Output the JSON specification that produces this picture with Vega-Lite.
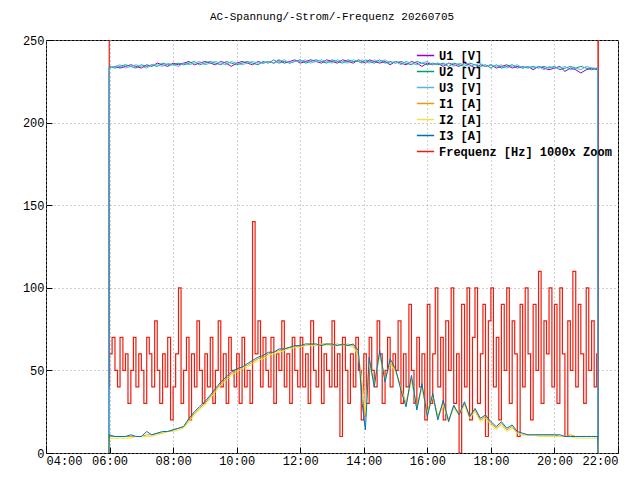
{
  "$schema": "https://vega.github.io/schema/vega-lite/v6.json",
  "width": 572,
  "height": 413,
  "autosize": {"type": "none"},
  "padding": {"left": 46, "top": 40, "right": 22, "bottom": 27},
  "background": "white",
  "title": {"text": "AC-Spannung/-Strom/-Frequenz 20260705", "font": "Liberation Mono", "fontSize": 11, "fontWeight": "normal", "offset": 12},
  "datasets": {
    "el": [
      {"t":5.98,"u1":0,"u2":0,"u3":0,"i1":0,"i2":0,"i3":0},
      {"t":5.99,"u1":233,"u2":234,"u3":233,"i1":10,"i2":9,"i3":11},
      {"t":6.17,"u1":234,"u2":233,"u3":234,"i1":10,"i2":9,"i3":10},
      {"t":6.33,"u1":233,"u2":234,"u3":235,"i1":10,"i2":9,"i3":10},
      {"t":6.5,"u1":234,"u2":235,"u3":233,"i1":10,"i2":9,"i3":10},
      {"t":6.67,"u1":235,"u2":234,"u3":234,"i1":10,"i2":9,"i3":11},
      {"t":6.83,"u1":234,"u2":233,"u3":235,"i1":10,"i2":10,"i3":10},
      {"t":7.0,"u1":233,"u2":235,"u3":234,"i1":10,"i2":10,"i3":10},
      {"t":7.17,"u1":235,"u2":234,"u3":233,"i1":11,"i2":10,"i3":13},
      {"t":7.33,"u1":234,"u2":235,"u3":235,"i1":11,"i2":10,"i3":11},
      {"t":7.5,"u1":236,"u2":234,"u3":235,"i1":12,"i2":11,"i3":12},
      {"t":7.67,"u1":235,"u2":236,"u3":234,"i1":12,"i2":12,"i3":13},
      {"t":7.83,"u1":234,"u2":235,"u3":236,"i1":13,"i2":13,"i3":13},
      {"t":8.0,"u1":236,"u2":235,"u3":235,"i1":14,"i2":13,"i3":14},
      {"t":8.17,"u1":235,"u2":236,"u3":234,"i1":15,"i2":14,"i3":15},
      {"t":8.33,"u1":236,"u2":235,"u3":236,"i1":16,"i2":15,"i3":16},
      {"t":8.5,"u1":237,"u2":236,"u3":235,"i1":20,"i2":19,"i3":21},
      {"t":8.67,"u1":235,"u2":237,"u3":236,"i1":24,"i2":23,"i3":25},
      {"t":8.83,"u1":236,"u2":235,"u3":237,"i1":27,"i2":26,"i3":28},
      {"t":9.0,"u1":237,"u2":236,"u3":235,"i1":30,"i2":29,"i3":31},
      {"t":9.17,"u1":236,"u2":237,"u3":236,"i1":34,"i2":33,"i3":35},
      {"t":9.33,"u1":235,"u2":236,"u3":237,"i1":38,"i2":37,"i3":39},
      {"t":9.5,"u1":237,"u2":235,"u3":236,"i1":42,"i2":41,"i3":43},
      {"t":9.67,"u1":236,"u2":237,"u3":235,"i1":45,"i2":44,"i3":46},
      {"t":9.83,"u1":234,"u2":236,"u3":237,"i1":48,"i2":47,"i3":49},
      {"t":10.0,"u1":236,"u2":235,"u3":236,"i1":50,"i2":49,"i3":51},
      {"t":10.17,"u1":237,"u2":236,"u3":235,"i1":52,"i2":51,"i3":52},
      {"t":10.33,"u1":236,"u2":237,"u3":236,"i1":53,"i2":52,"i3":54},
      {"t":10.5,"u1":235,"u2":236,"u3":237,"i1":55,"i2":54,"i3":56},
      {"t":10.67,"u1":237,"u2":235,"u3":236,"i1":57,"i2":56,"i3":58},
      {"t":10.83,"u1":236,"u2":237,"u3":236,"i1":58,"i2":57,"i3":59},
      {"t":11.0,"u1":237,"u2":236,"u3":237,"i1":60,"i2":59,"i3":61},
      {"t":11.17,"u1":236,"u2":238,"u3":236,"i1":61,"i2":60,"i3":61},
      {"t":11.33,"u1":238,"u2":236,"u3":237,"i1":62,"i2":61,"i3":63},
      {"t":11.5,"u1":236,"u2":237,"u3":238,"i1":63,"i2":62,"i3":63},
      {"t":11.67,"u1":237,"u2":236,"u3":236,"i1":64,"i2":63,"i3":64},
      {"t":11.83,"u1":238,"u2":237,"u3":237,"i1":64,"i2":64,"i3":65},
      {"t":12.0,"u1":236,"u2":238,"u3":237,"i1":65,"i2":64,"i3":65},
      {"t":12.17,"u1":237,"u2":236,"u3":238,"i1":65,"i2":65,"i3":66},
      {"t":12.33,"u1":238,"u2":237,"u3":236,"i1":66,"i2":65,"i3":66},
      {"t":12.5,"u1":237,"u2":238,"u3":237,"i1":65,"i2":65,"i3":66},
      {"t":12.67,"u1":236,"u2":237,"u3":238,"i1":66,"i2":66,"i3":65},
      {"t":12.83,"u1":238,"u2":236,"u3":237,"i1":66,"i2":65,"i3":66},
      {"t":13.0,"u1":237,"u2":238,"u3":236,"i1":65,"i2":66,"i3":66},
      {"t":13.17,"u1":236,"u2":237,"u3":238,"i1":66,"i2":65,"i3":65},
      {"t":13.33,"u1":238,"u2":236,"u3":237,"i1":65,"i2":66,"i3":66},
      {"t":13.5,"u1":237,"u2":238,"u3":236,"i1":66,"i2":65,"i3":65},
      {"t":13.67,"u1":236,"u2":237,"u3":238,"i1":65,"i2":64,"i3":66},
      {"t":13.83,"u1":238,"u2":237,"u3":237,"i1":60,"i2":59,"i3":62},
      {"t":13.95,"u1":237,"u2":236,"u3":238,"i1":40,"i2":42,"i3":30},
      {"t":14.05,"u1":236,"u2":238,"u3":237,"i1":22,"i2":24,"i3":14},
      {"t":14.17,"u1":238,"u2":237,"u3":236,"i1":55,"i2":54,"i3":58},
      {"t":14.33,"u1":237,"u2":236,"u3":238,"i1":42,"i2":41,"i3":40},
      {"t":14.5,"u1":236,"u2":238,"u3":237,"i1":60,"i2":59,"i3":62},
      {"t":14.67,"u1":237,"u2":236,"u3":238,"i1":45,"i2":44,"i3":43},
      {"t":14.83,"u1":235,"u2":237,"u3":236,"i1":55,"i2":54,"i3":57},
      {"t":15.0,"u1":237,"u2":236,"u3":237,"i1":50,"i2":49,"i3":51},
      {"t":15.17,"u1":236,"u2":237,"u3":235,"i1":40,"i2":39,"i3":38},
      {"t":15.33,"u1":235,"u2":236,"u3":237,"i1":30,"i2":29,"i3":28},
      {"t":15.5,"u1":237,"u2":235,"u3":236,"i1":45,"i2":44,"i3":47},
      {"t":15.67,"u1":236,"u2":237,"u3":235,"i1":28,"i2":27,"i3":26},
      {"t":15.83,"u1":234,"u2":236,"u3":236,"i1":40,"i2":39,"i3":42},
      {"t":16.0,"u1":236,"u2":235,"u3":237,"i1":25,"i2":24,"i3":22},
      {"t":16.17,"u1":235,"u2":236,"u3":235,"i1":35,"i2":34,"i3":36},
      {"t":16.33,"u1":236,"u2":235,"u3":236,"i1":22,"i2":21,"i3":20},
      {"t":16.5,"u1":234,"u2":236,"u3":235,"i1":30,"i2":29,"i3":32},
      {"t":16.67,"u1":236,"u2":234,"u3":236,"i1":20,"i2":19,"i3":19},
      {"t":16.83,"u1":235,"u2":236,"u3":234,"i1":28,"i2":27,"i3":29},
      {"t":17.0,"u1":234,"u2":235,"u3":236,"i1":24,"i2":23,"i3":23},
      {"t":17.17,"u1":236,"u2":234,"u3":235,"i1":30,"i2":29,"i3":31},
      {"t":17.33,"u1":235,"u2":236,"u3":234,"i1":22,"i2":21,"i3":22},
      {"t":17.5,"u1":233,"u2":235,"u3":235,"i1":26,"i2":25,"i3":27},
      {"t":17.67,"u1":235,"u2":234,"u3":236,"i1":20,"i2":19,"i3":21},
      {"t":17.83,"u1":234,"u2":235,"u3":234,"i1":22,"i2":21,"i3":23},
      {"t":18.0,"u1":235,"u2":233,"u3":235,"i1":18,"i2":17,"i3":19},
      {"t":18.17,"u1":233,"u2":235,"u3":234,"i1":15,"i2":14,"i3":16},
      {"t":18.33,"u1":234,"u2":233,"u3":235,"i1":18,"i2":17,"i3":19},
      {"t":18.5,"u1":235,"u2":234,"u3":233,"i1":14,"i2":13,"i3":15},
      {"t":18.67,"u1":233,"u2":235,"u3":234,"i1":16,"i2":15,"i3":17},
      {"t":18.83,"u1":234,"u2":233,"u3":235,"i1":12,"i2":12,"i3":13},
      {"t":19.0,"u1":233,"u2":234,"u3":233,"i1":11,"i2":11,"i3":12},
      {"t":19.17,"u1":234,"u2":233,"u3":234,"i1":11,"i2":11,"i3":11},
      {"t":19.33,"u1":232,"u2":234,"u3":233,"i1":11,"i2":11,"i3":11},
      {"t":19.5,"u1":234,"u2":233,"u3":234,"i1":11,"i2":10,"i3":11},
      {"t":19.67,"u1":233,"u2":234,"u3":232,"i1":11,"i2":10,"i3":11},
      {"t":19.83,"u1":232,"u2":233,"u3":234,"i1":11,"i2":10,"i3":11},
      {"t":20.0,"u1":233,"u2":234,"u3":233,"i1":11,"i2":10,"i3":11},
      {"t":20.17,"u1":234,"u2":232,"u3":233,"i1":10,"i2":10,"i3":11},
      {"t":20.33,"u1":231,"u2":233,"u3":234,"i1":10,"i2":10,"i3":10},
      {"t":20.5,"u1":233,"u2":234,"u3":232,"i1":11,"i2":10,"i3":10},
      {"t":20.67,"u1":232,"u2":233,"u3":233,"i1":10,"i2":9,"i3":10},
      {"t":20.83,"u1":230,"u2":234,"u3":232,"i1":10,"i2":9,"i3":10},
      {"t":21.0,"u1":232,"u2":233,"u3":234,"i1":10,"i2":9,"i3":10},
      {"t":21.17,"u1":233,"u2":232,"u3":233,"i1":10,"i2":9,"i3":10},
      {"t":21.36,"u1":232,"u2":233,"u3":233,"i1":10,"i2":9,"i3":10},
      {"t":21.37,"u1":0,"u2":0,"u3":0,"i1":0,"i2":0,"i3":0}
    ],
    "fr": [
      {"t":5.98,"f":260},{"t":5.99,"f":40},
      {"t":6.0,"f":60},{"t":6.08,"f":70},{"t":6.17,"f":50},{"t":6.25,"f":40},{"t":6.33,"f":70},{"t":6.42,"f":50},{"t":6.5,"f":60},{"t":6.58,"f":30},{"t":6.67,"f":50},{"t":6.75,"f":70},{"t":6.83,"f":40},{"t":6.92,"f":60},
      {"t":7.0,"f":50},{"t":7.08,"f":30},{"t":7.17,"f":70},{"t":7.25,"f":60},{"t":7.33,"f":40},{"t":7.42,"f":80},{"t":7.5,"f":50},{"t":7.58,"f":30},{"t":7.67,"f":60},{"t":7.75,"f":40},{"t":7.83,"f":70},{"t":7.92,"f":20},
      {"t":8.0,"f":40},{"t":8.08,"f":60},{"t":8.17,"f":100},{"t":8.25,"f":30},{"t":8.33,"f":50},{"t":8.42,"f":70},{"t":8.5,"f":20},{"t":8.58,"f":60},{"t":8.67,"f":40},{"t":8.75,"f":80},{"t":8.83,"f":50},{"t":8.92,"f":30},
      {"t":9.0,"f":60},{"t":9.08,"f":40},{"t":9.17,"f":70},{"t":9.25,"f":30},{"t":9.33,"f":50},{"t":9.42,"f":80},{"t":9.5,"f":40},{"t":9.58,"f":60},{"t":9.67,"f":30},{"t":9.75,"f":70},{"t":9.83,"f":50},{"t":9.92,"f":40},
      {"t":10.0,"f":60},{"t":10.08,"f":30},{"t":10.17,"f":70},{"t":10.25,"f":40},{"t":10.33,"f":50},{"t":10.42,"f":30},{"t":10.5,"f":140},{"t":10.58,"f":60},{"t":10.67,"f":80},{"t":10.75,"f":40},{"t":10.83,"f":70},{"t":10.92,"f":50},
      {"t":11.0,"f":40},{"t":11.08,"f":70},{"t":11.17,"f":30},{"t":11.25,"f":60},{"t":11.33,"f":50},{"t":11.42,"f":80},{"t":11.5,"f":40},{"t":11.58,"f":60},{"t":11.67,"f":30},{"t":11.75,"f":70},{"t":11.83,"f":50},{"t":11.92,"f":40},
      {"t":12.0,"f":70},{"t":12.08,"f":40},{"t":12.17,"f":60},{"t":12.25,"f":30},{"t":12.33,"f":80},{"t":12.42,"f":50},{"t":12.5,"f":40},{"t":12.58,"f":70},{"t":12.67,"f":30},{"t":12.75,"f":60},{"t":12.83,"f":50},{"t":12.92,"f":40},
      {"t":13.0,"f":80},{"t":13.08,"f":40},{"t":13.17,"f":60},{"t":13.25,"f":10},{"t":13.33,"f":70},{"t":13.42,"f":50},{"t":13.5,"f":30},{"t":13.58,"f":60},{"t":13.67,"f":40},{"t":13.75,"f":70},{"t":13.83,"f":50},{"t":13.92,"f":20},
      {"t":14.0,"f":60},{"t":14.08,"f":30},{"t":14.17,"f":70},{"t":14.25,"f":50},{"t":14.33,"f":40},{"t":14.42,"f":80},{"t":14.5,"f":60},{"t":14.58,"f":30},{"t":14.67,"f":50},{"t":14.75,"f":70},{"t":14.83,"f":40},{"t":14.92,"f":60},
      {"t":15.0,"f":50},{"t":15.08,"f":80},{"t":15.17,"f":30},{"t":15.25,"f":60},{"t":15.33,"f":40},{"t":15.42,"f":90},{"t":15.5,"f":50},{"t":15.58,"f":30},{"t":15.67,"f":70},{"t":15.75,"f":40},{"t":15.83,"f":60},{"t":15.92,"f":20},
      {"t":16.0,"f":90},{"t":16.08,"f":30},{"t":16.17,"f":60},{"t":16.25,"f":100},{"t":16.33,"f":40},{"t":16.42,"f":70},{"t":16.5,"f":20},{"t":16.58,"f":80},{"t":16.67,"f":50},{"t":16.75,"f":100},{"t":16.83,"f":30},{"t":16.92,"f":60},
      {"t":17.0,"f":0},{"t":17.08,"f":90},{"t":17.17,"f":40},{"t":17.25,"f":100},{"t":17.33,"f":20},{"t":17.42,"f":70},{"t":17.5,"f":100},{"t":17.58,"f":30},{"t":17.67,"f":60},{"t":17.75,"f":90},{"t":17.83,"f":10},{"t":17.92,"f":80},
      {"t":18.0,"f":100},{"t":18.08,"f":40},{"t":18.17,"f":70},{"t":18.25,"f":20},{"t":18.33,"f":90},{"t":18.42,"f":50},{"t":18.5,"f":100},{"t":18.58,"f":30},{"t":18.67,"f":80},{"t":18.75,"f":60},{"t":18.83,"f":10},{"t":18.92,"f":90},
      {"t":19.0,"f":40},{"t":19.08,"f":100},{"t":19.17,"f":60},{"t":19.25,"f":20},{"t":19.33,"f":90},{"t":19.42,"f":50},{"t":19.5,"f":110},{"t":19.58,"f":30},{"t":19.67,"f":80},{"t":19.75,"f":60},{"t":19.83,"f":100},{"t":19.92,"f":40},
      {"t":20.0,"f":90},{"t":20.08,"f":30},{"t":20.17,"f":100},{"t":20.25,"f":60},{"t":20.33,"f":10},{"t":20.42,"f":80},{"t":20.5,"f":50},{"t":20.58,"f":110},{"t":20.67,"f":40},{"t":20.75,"f":90},{"t":20.83,"f":60},{"t":20.92,"f":30},
      {"t":21.0,"f":100},{"t":21.08,"f":50},{"t":21.17,"f":80},{"t":21.25,"f":40},{"t":21.33,"f":60},
      {"t":21.37,"f":260},{"t":21.38,"f":0}
    ]
  },
  "encoding": {
    "x": {
      "field": "t", "type": "quantitative",
      "scale": {"domain": [4, 22], "nice": false, "zero": false},
      "axis": {"values": [4,6,8,10,12,14,16,18,20,22], "labelExpr": "(datum.value < 10 ? '0' : '') + datum.value + ':00'", "title": null}
    },
    "y": {
      "field": "v", "type": "quantitative",
      "scale": {"domain": [0, 250], "nice": false},
      "axis": {"values": [0,50,100,150,200,250], "title": null}
    },
    "color": {
      "field": "k", "type": "nominal",
      "scale": {
        "domain": ["u1","u2","u3","i1","i2","i3","f"],
        "range": ["#9400d3","#009e73","#56b4e9","#e69f00","#f0e442","#0072b2","#ee1c0e"]
      },
      "legend": {
        "title": null, "orient": "top-right", "offset": 6, "symbolType": "stroke", "symbolSize": 300, "symbolStrokeWidth": 1.5,
        "labelFont": "Liberation Mono", "labelFontSize": 12, "labelFontWeight": "bold", "rowPadding": 0, "labelLimit": 400,
        "labelExpr": "{'u1':'U1 [V]','u2':'U2 [V]','u3':'U3 [V]','i1':'I1 [A]','i2':'I2 [A]','i3':'I3 [A]','f':'Frequenz [Hz] 1000x Zoom'}[datum.value]"
      }
    }
  },
  "layer": [
    {
      "data": {"name": "fr"},
      "transform": [{"fold": ["f"], "as": ["k", "v"]}],
      "mark": {"type": "line", "interpolate": "step-after", "strokeWidth": 1.2, "clip": true}
    },
    {
      "data": {"name": "el"},
      "transform": [{"fold": ["u1","u2","u3","i1","i2","i3"], "as": ["k", "v"]}],
      "mark": {"type": "line", "strokeWidth": 1, "clip": true}
    }
  ],
  "config": {
    "view": {"stroke": "black", "strokeWidth": 1},
    "axis": {
      "labelFont": "Liberation Mono", "labelFontSize": 12, "labelColor": "black",
      "domain": false, "tickColor": "black", "tickSize": -6,
      "grid": true, "gridColor": "#a0a0a0", "gridDash": [1, 3], "gridWidth": 1, "labelPadding": 8
    }
  }
}
